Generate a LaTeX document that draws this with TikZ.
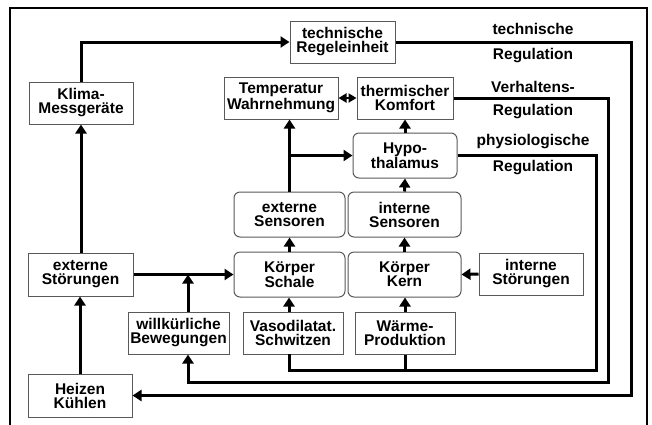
\documentclass[tikz,border=0pt]{standalone}
\usepackage{fontspec}
\setmainfont{Liberation Sans}
\usetikzlibrary{arrows.meta}
\begin{document}
\begin{tikzpicture}[x=1pt,y=-1pt,
  box/.style={draw=black!65,line width=1pt,fill=white,align=center,inner sep=0pt,
    font=\fontsize{15.5}{14}\selectfont\bfseries},
  rbox/.style={box,rounded corners=6pt},
  conn/.style={line width=3pt,-{Triangle[length=9pt,width=11pt]}},
  plain/.style={line width=3pt},
  lbl/.style={font=\fontsize{15.5}{14}\selectfont\bfseries,inner sep=0pt}]
\useasboundingbox (0,0) rectangle (652,424);
\draw[line width=2pt] (10,440) -- (10,8) -- (647,8) -- (647,440);
% nodes
\node[box,minimum width=105pt,minimum height=42pt] (tech) at (342.5,42) {technische\\Regeleinheit};
\node[box,minimum width=104pt,minimum height=42pt] (klima) at (81,103) {Klima-\\Messgeräte};
\node[box,minimum width=114pt,minimum height=42pt] (temp) at (281,98) {Temperatur\\Wahrnehmung};
\node[box,minimum width=96pt,minimum height=42pt] (komfort) at (405,98) {thermischer\\Komfort};
\node[rbox,minimum width=104pt,minimum height=45pt] (hypo) at (405,155.5) {Hypo-\\thalamus};
\node[rbox,minimum width=111pt,minimum height=45pt] (extsens) at (289.5,214.5) {externe\\Sensoren};
\node[rbox,minimum width=113pt,minimum height=45pt] (intsens) at (404.5,214.5) {interne\\Sensoren};
\node[rbox,minimum width=111pt,minimum height=45pt] (schale) at (289.5,274.5) {Körper\\Schale};
\node[rbox,minimum width=113pt,minimum height=45pt] (kern) at (404.5,274.5) {Körper\\Kern};
\node[box,minimum width=104pt,minimum height=42pt] (intstor) at (531,274) {interne\\Störungen};
\node[box,minimum width=105pt,minimum height=43pt] (extstor) at (80.5,274.5) {externe\\Störungen};
\node[box,minimum width=101pt,minimum height=42pt] (willk) at (178.5,333) {willkürliche\\Bewegungen};
\node[box,minimum width=100pt,minimum height=42pt] (vaso) at (293,333) {Vasodilatat.\\Schwitzen};
\node[box,minimum width=100pt,minimum height=42pt] (waerme) at (405,333) {Wärme-\\Produktion};
\node[box,minimum width=104pt,minimum height=43pt] (heizen) at (80,395.5) {Heizen\\Kühlen};
% labels
\node[lbl] (l1) at (533,29) {technische};
\node[lbl] (l2) at (533,56) {Regulation};
\node[lbl] (l3) at (533,87) {Verhaltens-};
\node[lbl] (l4) at (533,112) {Regulation};
\node[lbl] (l5) at (533,142) {physiologische};
\node[lbl] (l6) at (533,168) {Regulation};
% coordinates
\coordinate (wtop) at (188,312);
\coordinate (vbot) at (289,354);
\coordinate (vtop) at (289,312);
\coordinate (p1) at (596,155.5);
\coordinate (p2) at (596,370);
\coordinate (p3) at (289,370);
\coordinate (b1) at (608,98);
\coordinate (b2) at (608,382);
\coordinate (b3) at (188,382);
\coordinate (t1) at (631,42);
\coordinate (t2) at (631,395.5);
% connectors
\draw[conn] (klima.north) |- (tech.west);
\draw[conn] (extstor.north -| klima.south) -- (klima.south);
\draw[conn] (heizen.north) -- (heizen.north |- extstor.south);
\draw[conn] (extstor.east) -- (schale.west);
\draw[conn] (wtop) -- (wtop |- extstor.east);
\draw[conn] (extsens.north) -- (extsens.north |- temp.south);
\draw[conn] (extsens.north |- hypo.west) -- (hypo.west);
\draw[conn] (hypo.north) -- (komfort.south);
\draw[conn] (intsens.north) -- (hypo.south);
\draw[conn] (kern.north) -- (intsens.south);
\draw[conn] (waerme.north) -- (kern.south -| waerme.north);
\draw[conn] (intstor.west) -- (kern.east);
\draw[conn] (schale.north) -- (extsens.south);
\draw[conn] (vtop) -- (vtop |- schale.south);
\draw[line width=2pt,{Triangle[length=8pt,width=9pt]}-{Triangle[length=8pt,width=9pt]}] (temp.east) -- (komfort.west);
% regulation loops
\draw[plain,line join=miter] (hypo.east) -- (p1) -- (p2) -- (p3) -- (vbot);
\draw[plain] (waerme.south) -- (waerme.south |- p3);
\draw[conn,line join=miter] (komfort.east) -- (b1) -- (b2) -- (b3) -- (b3 |- willk.south);
\draw[conn,line join=miter] (tech.east) -- (t1) -- (t2) -- (heizen.east);
\end{tikzpicture}
\end{document}
